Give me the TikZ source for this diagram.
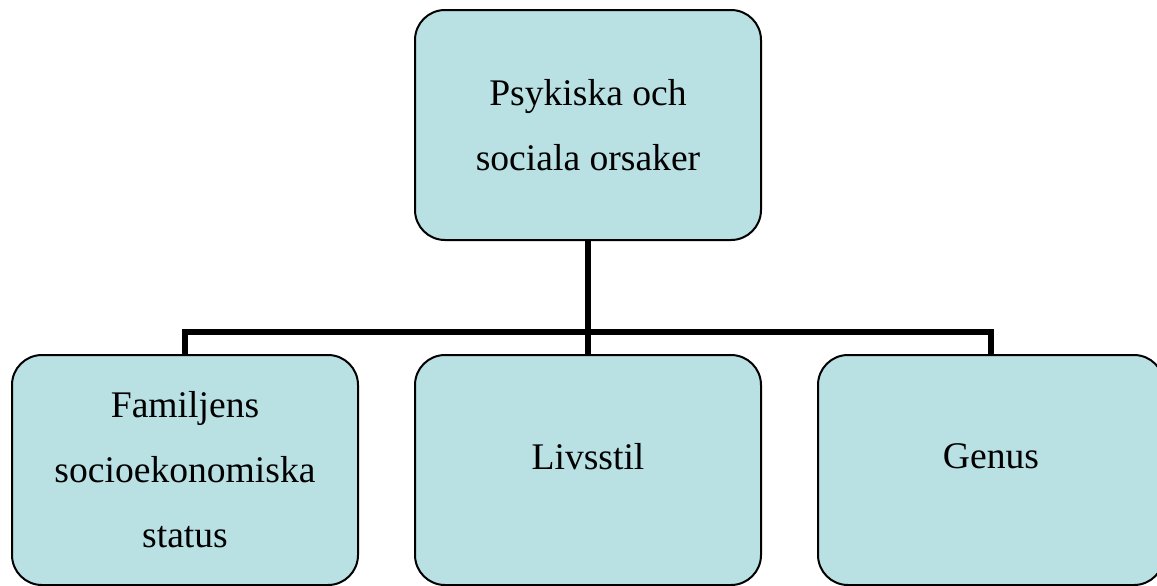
\documentclass[tikz,border=0pt]{standalone}
\usepackage{fontspec}
\setmainfont{Liberation Serif}
\definecolor{boxfill}{RGB}{185,224,227}
\begin{document}
\begin{tikzpicture}[x=0.5pt, y=-0.5pt,
            box/.style={draw, line width=1pt, fill=boxfill, rounded corners=15pt,
                minimum width=173pt, minimum height=115pt, inner sep=0pt,
                align=center, font=\fontsize{18.8}{32.5}\selectfont},
            link/.style={line width=3pt}
        ]
            \useasboundingbox (0,0) rectangle (1157,585);
            \clip (0,0) rectangle (1157,585);

            \node[box] (orsaker) at (588, 125) {Psykiska och\\sociala orsaker};

            \node[box] (familj) at (185, 470) {Familjens\\socioekonomiska\\status};
            \node[box] (livsstil) at (588, 470) {\raisebox{14pt}{Livsstil}};
            \node[box] (genus) at (991, 470) {\raisebox{14pt}{Genus}};

            \coordinate (bus) at (588, 332);
            \draw[link] (orsaker.south) -- (livsstil.north);
            \draw[link] (familj.north) -- (familj.north |- bus) -- (genus.north |- bus) -- (genus.north);
        \end{tikzpicture}
\end{document}
